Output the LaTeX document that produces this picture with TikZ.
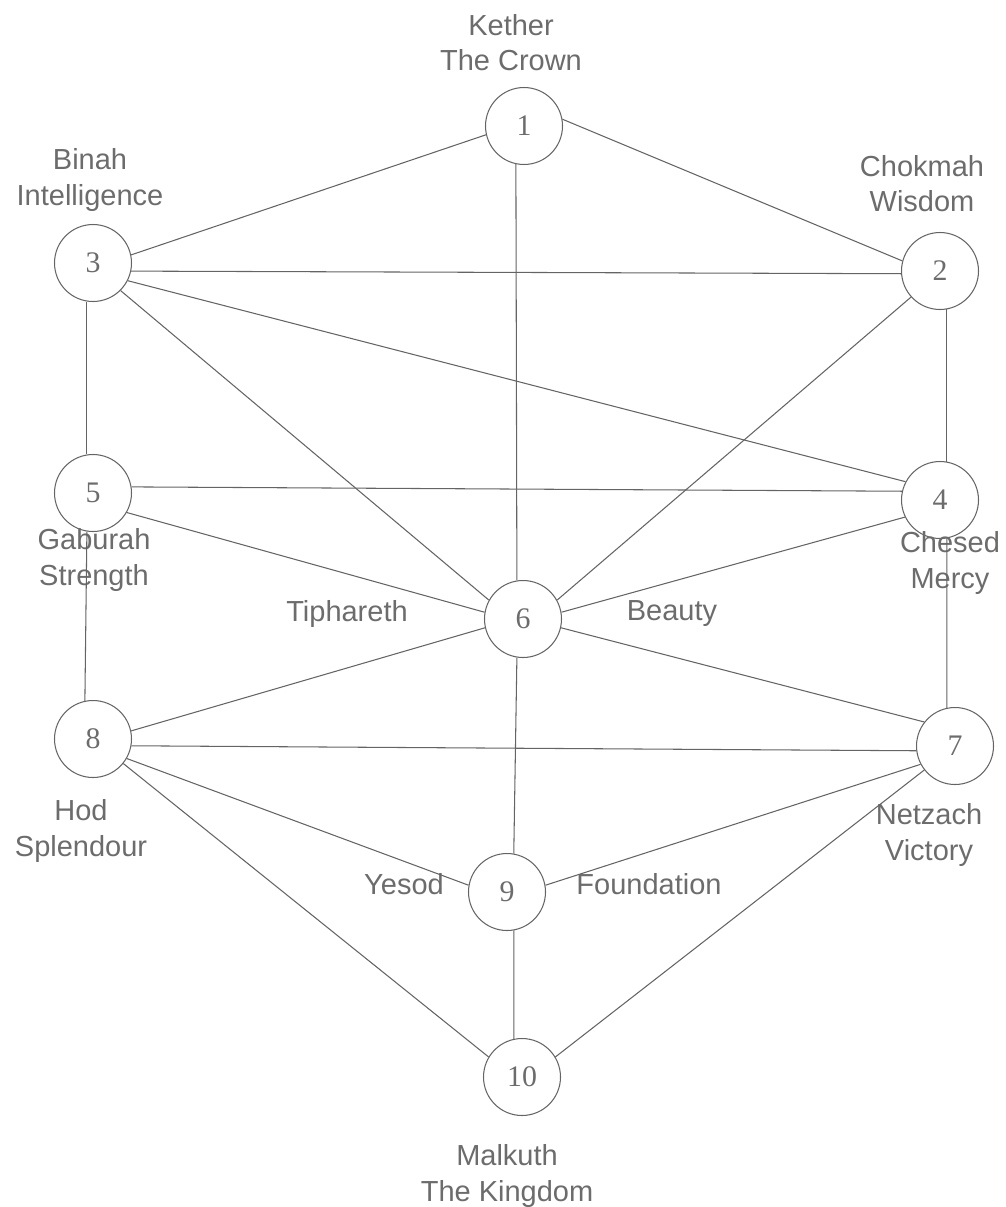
\documentclass[tikz,border=0pt]{standalone}
\usepackage{fontspec}
\setmainfont{Liberation Serif}
\newfontfamily\labelfont{Liberation Sans}
\definecolor{ink}{RGB}{100,100,100}
\definecolor{wording}{RGB}{108,108,108}
\tikzset{
  sephira/.style={circle, draw=ink, line width=0.6pt, minimum size=1.54cm, inner sep=0pt,
    text=wording, font=\fontsize{17}{17}\selectfont},
  sefname/.style={text=wording, align=center, inner sep=0pt,
    font=\labelfont\fontsize{16.5}{20}\selectfont},
  link/.style={draw=ink, line width=0.6pt}
}

\begin{document}
\begin{tikzpicture}[x=0.02cm, y=-0.02cm]
            \useasboundingbox (0,0) rectangle (1006,1207);
            % Define nodes
            \node[sephira] (S1)  at (524,126)  {1};
            \node[sephira] (S2)  at (940,271)  {2};
            \node[sephira] (S3)  at (93,263)   {3};
            \node[sephira] (S4)  at (940,500)  {4};
            \node[sephira] (S5)  at (93,493)   {5};
            \node[sephira] (S6)  at (523,619)  {6};
            \node[sephira] (S7)  at (955,746)  {7};
            \node[sephira] (S8)  at (93,739)   {8};
            \node[sephira] (S9)  at (507,892)  {9};
            \node[sephira] (S10) at (522,1077) {10};

            % Names
            \node[sefname] (kether)     at (511,43)   {Kether\\The Crown};
            \node[sefname] (binah)      at (90,180)   {Binah\\Intelligence};
            \node[sefname] (chokmah)    at (922,184)  {Chokmah\\Wisdom};
            \node[sefname] (gaburah)    at (94,560)   {Gaburah\\Strength};
            \node[sefname] (chesed)     at (950,563)  {Chesed\\Mercy};
            \node[sefname] (tiphareth)  at (347,614)  {Tiphareth};
            \node[sefname] (beauty)     at (672,614)  {Beauty};
            \node[sefname] (hod)        at (81,831)   {Hod\\Splendour};
            \node[sefname] (netzach)    at (929,835)  {Netzach\\Victory};
            \node[sefname] (yesod)      at (404,884)  {Yesod};
            \node[sefname] (foundation) at (649,884)  {Foundation};
            \node[sefname] (malkuth)    at (507,1176) {Malkuth\\The Kingdom};

            % Connect the nodes
            \foreach \a/\p/\b/\q in {S1/193/S3/12, S1/10/S2/165, S1/258/S6/99,
                                     S3/348/S2/184, S3/333/S4/152, S3/315/S6/151, S3/261/S5/99,
                                     S2/222/S6/29, S2/280/S4/80,
                                     S5/9/S4/167, S5/330/S6/170, S4/206/S6/10, S4/280/S7/102,
                                     S5/261/S8/102, S6/193/S8/12, S6/347/S7/142, S6/261/S9/80,
                                     S8/350/S7/187, S8/330/S9/170, S8/321/S10/149,
                                     S7/208/S9/10, S7/218/S10/31, S9/280/S10/102}
              \path[link] (\a.\p) -- (\b.\q);
          \end{tikzpicture}
\end{document}
